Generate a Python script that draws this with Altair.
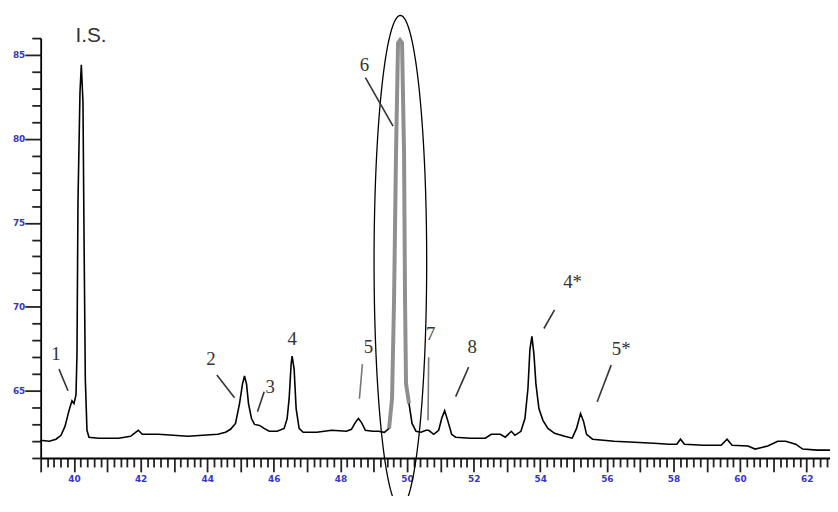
import altair as alt
import pandas as pd
import numpy as np

# ---- chromatogram trace (retention time, signal) ----
time_min = [38.99, 39.26, 39.46, 39.61, 39.73, 39.85, 39.94, 40.00, 40.06, 40.09, 40.12, 40.18, 40.22,
            40.27, 40.30, 40.34, 40.39, 40.45, 40.74, 41.34, 41.70, 41.85, 41.93, 42.05, 42.53, 42.98,
            43.42, 43.87, 44.32, 44.55, 44.70, 44.85, 44.97, 45.06, 45.12, 45.18, 45.24, 45.33, 45.42,
            45.57, 45.71, 45.86, 46.10, 46.31, 46.40, 46.46, 46.52, 46.55, 46.61, 46.67, 46.76, 46.88,
            47.29, 47.74, 48.18, 48.33, 48.45, 48.54, 48.63, 48.75, 48.96, 49.14, 49.32, 49.46, 49.55,
            49.61, 49.67, 49.73, 49.79, 49.85, 49.91, 49.94, 49.97, 50.06, 50.15, 50.27, 50.42, 50.57,
            50.65, 50.80, 50.95, 51.04, 51.13, 51.22, 51.34, 51.46, 51.90, 52.35, 52.53, 52.80, 52.95,
            53.13, 53.24, 53.42, 53.54, 53.63, 53.69, 53.75, 53.81, 53.87, 53.96, 54.08, 54.23, 54.43,
            54.73, 54.96, 55.09, 55.21, 55.30, 55.39, 55.57, 56.22, 56.82, 57.41, 57.86, 58.10, 58.21,
            58.33, 58.90, 59.43, 59.61, 59.76, 60.24, 60.45, 60.83, 61.13, 61.37, 61.67, 61.88, 62.32,
            62.70]
signal = [62.06, 62.00, 62.12, 62.35, 62.88, 63.82, 64.41, 64.24, 64.76, 67.18, 76.29, 82.76, 84.41,
          82.18, 74.53, 65.71, 62.65, 62.24, 62.18, 62.18, 62.29, 62.53, 62.65, 62.41, 62.41, 62.35,
          62.29, 62.35, 62.41, 62.53, 62.71, 63.06, 64.24, 65.41, 65.88, 65.41, 64.24, 63.35, 63.00,
          62.94, 62.76, 62.59, 62.59, 62.76, 63.35, 64.53, 66.59, 67.06, 66.29, 63.94, 62.76, 62.53,
          62.53, 62.65, 62.59, 62.71, 63.12, 63.35, 63.12, 62.65, 62.59, 62.59, 62.53, 62.76, 64.53,
          70.41, 79.24, 85.71, 85.88, 85.71, 79.24, 70.41, 65.41, 64.24, 63.06, 62.59, 62.53, 62.65,
          62.65, 62.41, 62.65, 63.35, 63.82, 63.24, 62.41, 62.24, 62.18, 62.18, 62.41, 62.41, 62.24,
          62.59, 62.35, 62.59, 63.35, 65.12, 67.47, 68.24, 67.18, 65.41, 63.94, 63.24, 62.76, 62.47,
          62.29, 62.18, 62.76, 63.65, 63.18, 62.41, 62.12, 62.00, 61.94, 61.88, 61.82, 61.82, 62.12,
          61.82, 61.76, 61.76, 62.12, 61.76, 61.71, 61.53, 61.71, 62.00, 62.00, 61.82, 61.53, 61.47,
          61.47]

# ---- peak labels ----
label_text = ["I.S.", "1", "2", "3", "4", "5", "6", "7", "8", "4*", "5*"]
label_t = [40.51, 39.46, 44.11, 45.89, 46.55, 48.84, 48.72, 50.71, 51.96, 54.97, 56.43]
label_v = [86.10, 67.18, 66.88, 65.24, 68.06, 67.59, 84.41, 68.35, 67.59, 71.47, 67.47]

# ---- leader lines ----
leader_t1 = [39.55, 44.29, 45.71, 48.66, 48.75, 50.65, 51.85, 54.43, 56.13]
leader_v1 = [66.29, 65.94, 64.94, 66.59, 83.65, 67.00, 66.41, 69.82, 66.53]
leader_t2 = [39.82, 44.82, 45.51, 48.57, 49.58, 50.63, 51.46, 54.11, 55.71]
leader_v2 = [65.00, 64.59, 63.76, 64.53, 80.76, 63.24, 64.65, 68.71, 64.35]
leader_col = ["#333333", "#333333", "#333333", "#777777", "#333333", "#777777", "#333333", "#333333", "#333333"]

# ---- ellipse annotation around peak 6 (centre and semi-axes in data units) ----
ell_t0, ell_v0, ell_a, ell_b = 49.80, 72.70, 0.79, 14.65

x_ticks = [round(39.0 + 0.2 * i, 1) for i in range(0, 119)]
y_ticks = list(range(61, 87))

trace = pd.DataFrame({"t": time_min, "v": signal})
labels = pd.DataFrame({"t": label_t, "v": label_v, "txt": label_text})
leaders = pd.DataFrame({"t1": leader_t1, "v1": leader_v1, "t2": leader_t2, "v2": leader_v2, "c": leader_col})
ang = np.linspace(0, 2 * np.pi, 181)
ellipse = pd.DataFrame({"t": ell_t0 + ell_a * np.cos(ang), "v": ell_v0 + ell_b * np.sin(ang), "o": np.arange(len(ang))})

xs = alt.Scale(domain=[39.0, 62.7], nice=False, zero=False)
ys = alt.Scale(domain=[61, 86], nice=False, zero=False)

label_color = "#3535c8"
x_axis = alt.Axis(
    values=x_ticks, title=None, grid=False,
    domainColor="black", domainWidth=1.8, tickColor="#222222", tickWidth=1.8,
    tickSize={"condition": {"test": "round(datum.value*10) % 10 == 0", "value": 14}, "value": 9},
    labelExpr="round(datum.value*10) % 20 == 0 ? format(datum.value, 'd') : ''",
    labelColor=label_color, labelFontSize=9, labelFont="DejaVu Sans", labelFontWeight="bold",
    labelPadding=3, labelOverlap=False, labelFlush=False,
)
y_axis = alt.Axis(
    values=y_ticks, title=None, grid=False,
    domainColor="black", domainWidth=1.8, tickColor="#222222", tickWidth=1.8,
    tickSize={"condition": {"test": "datum.value % 5 == 0", "value": 16}, "value": 9},
    labelExpr="datum.value % 5 == 0 ? format(datum.value, 'd') : ''",
    labelColor=label_color, labelFontSize=9, labelFont="DejaVu Sans", labelFontWeight="bold",
    labelPadding=0, labelOverlap=False, labelFlush=False,
)

X = lambda f: alt.X(f, scale=xs, axis=x_axis)
Y = lambda f: alt.Y(f, scale=ys, axis=y_axis)

line = alt.Chart(trace).mark_line(color="black", strokeWidth=1.6, interpolate="linear").encode(
    x=X("t:Q"), y=Y("v:Q"))

peak6 = alt.Chart(trace).transform_filter("datum.t > 49.45 && datum.t < 50.1").mark_line(
    color="#8f8f8f", strokeWidth=4).encode(x=X("t:Q"), y=Y("v:Q"))

ell = alt.Chart(ellipse).mark_line(color="black", strokeWidth=1.3, clip=False).encode(
    x=X("t:Q"), y=Y("v:Q"), order="o:Q")

lead = alt.Chart(leaders).mark_rule(strokeWidth=1.6).encode(
    x=X("t1:Q"), y=Y("v1:Q"), x2="t2:Q", y2="v2:Q",
    color=alt.Color("c:N", scale=None))

txt_is = alt.Chart(labels).transform_filter("datum.txt == 'I.S.'").mark_text(
    font="Liberation Sans", fontSize=21, color="#333333", align="center", baseline="middle").encode(
    x=X("t:Q"), y=Y("v:Q"), text="txt:N")
txt_num = alt.Chart(labels).transform_filter("datum.txt != 'I.S.'").mark_text(
    font="Liberation Serif", fontSize=19, color="#333333", align="center", baseline="middle").encode(
    x=X("t:Q"), y=Y("v:Q"), text="txt:N")

chart = alt.layer(line, peak6, ell, lead, txt_is, txt_num).properties(
    width=797, height=424,
    padding={"left": 33, "top": 28, "right": 0, "bottom": 36},
    autosize=alt.AutoSizeParams(type="none"),
    background="white",
).configure_view(stroke=None)

chart.save("out.html", embed_options={"renderer": "svg", "actions": False})
